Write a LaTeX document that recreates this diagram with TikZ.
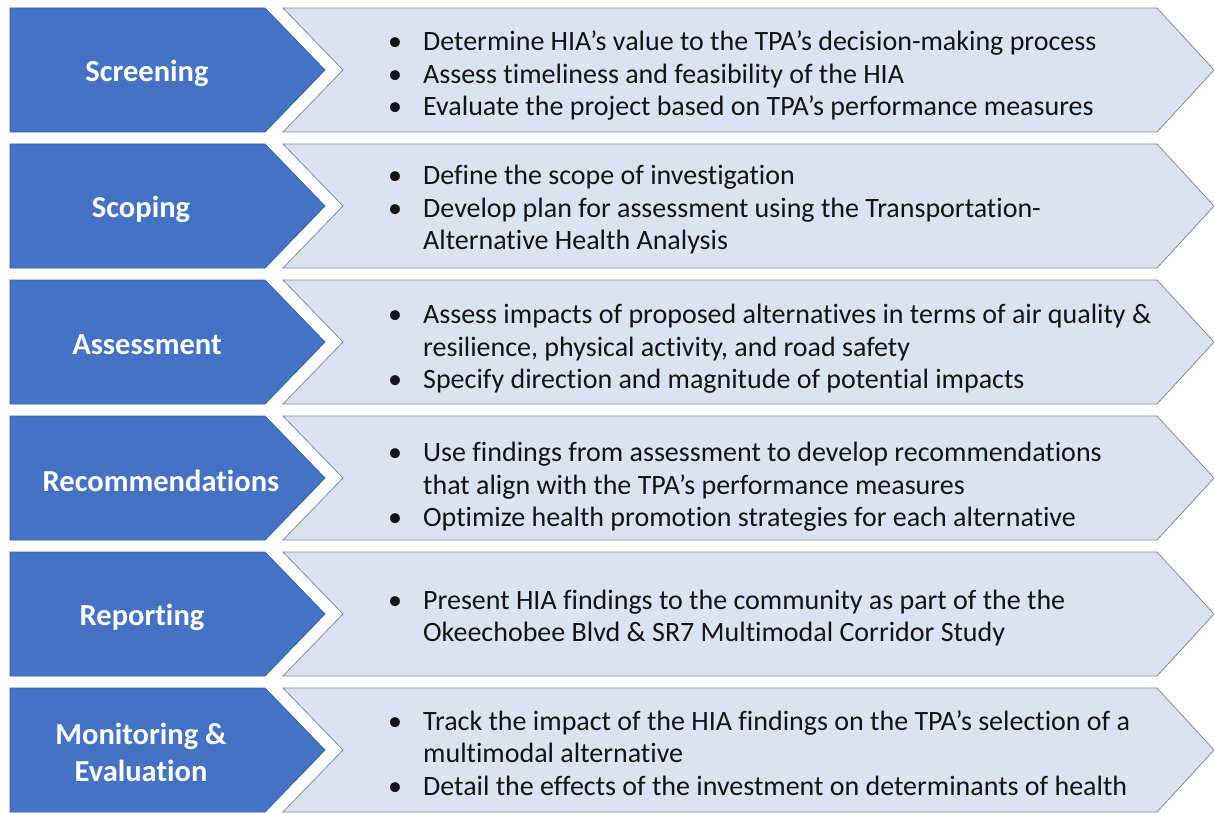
\documentclass[tikz,border=0pt]{standalone}
\usepackage{fontspec}
\setmainfont[Ligatures=NoCommon]{Carlito}
\usetikzlibrary{positioning}

\definecolor{stageblue}{HTML}{4472C4}
\definecolor{stageedge}{HTML}{3A63AE}
\definecolor{panelfill}{HTML}{DAE3F3}
\definecolor{paneledge}{HTML}{7D8EA8}

% bullet and hanging indent for the panel texts
\newcommand{\bul}{\makebox[35pt][l]{\textbullet}}
\newcommand{\hang}{\hspace*{35pt}}

\tikzset{
  stage/.style={fill=stageblue, draw=stageedge, line width=0.8pt},
  panel/.style={fill=panelfill, draw=paneledge, line width=0.8pt},
  stagelabel/.style={text=white, font=\fontsize{30.5}{37}\selectfont\bfseries, align=center, inner sep=0pt},
  bullets/.style={anchor=west, align=left, font=\fontsize{28}{32.5}\selectfont, text=black!92, inner sep=0pt}
}

\begin{document}
\begin{tikzpicture}[x=1pt,y=-1pt]
    \useasboundingbox (0,0) rectangle (1214,813);
    % Chevrons, one row per stage
    \foreach \i in {0,...,5} {
      \pgfmathsetmacro{\t}{8+136*\i}
      \pgfmathsetmacro{\m}{\t+62}
      \pgfmathsetmacro{\b}{\t+124}
      \draw[panel] (283,\t) -- (1157,\t) -- (1214,\m) -- (1157,\b) -- (283,\b) -- (343,\m) -- cycle;
      \draw[stage] (10,\t) -- (265,\t) -- (325,\m) -- (265,\b) -- (10,\b) -- cycle;
    }
    % Stage names
    \node[stagelabel] (screening) at (147,73) {Screening};
    \node[stagelabel] (scoping) at (141,209) {Scoping};
    \node[stagelabel] (assessment) at (147,345) {Assessment};
    \node[stagelabel] (recommend) at (161,481) {Recommendations};
    \node[stagelabel] (reporting) at (142,617) {Reporting};
    \node[stagelabel] (monitoring) at (141,752) {Monitoring \&\\Evaluation};
    % Stage activities
    \node[bullets] (screening-txt) at (388,76) {\bul Determine HIA’s value to the TPA’s decision-making process\\
      \bul Assess timeliness and feasibility of the HIA\\
      \bul Evaluate the project based on TPA’s performance measures};
    \node[bullets] (scoping-txt) at (388,210) {\bul Define the scope of investigation\\
      \bul Develop plan for assessment using the Transportation-\\
      \hang Alternative Health Analysis};
    \node[bullets] (assessment-txt) at (388,349) {\bul Assess impacts of proposed alternatives in terms of air quality \&\\
      \hang resilience, physical activity, and road safety\\
      \bul Specify direction and magnitude of potential impacts};
    \node[bullets] (recommend-txt) at (388,487) {\bul Use findings from assessment to develop recommendations\\
      \hang that align with the TPA’s performance measures\\
      \bul Optimize health promotion strategies for each alternative};
    \node[bullets] (reporting-txt) at (388,618) {\bul Present HIA findings to the community as part of the the\\
      \hang Okeechobee Blvd \& SR7 Multimodal Corridor Study};
    \node[bullets] (monitoring-txt) at (388,753) {\bul Track the impact of the HIA findings on the TPA’s selection of a\\
      \hang multimodal alternative\\
      \bul Detail the effects of the investment on determinants of health};
\end{tikzpicture}
\end{document}
